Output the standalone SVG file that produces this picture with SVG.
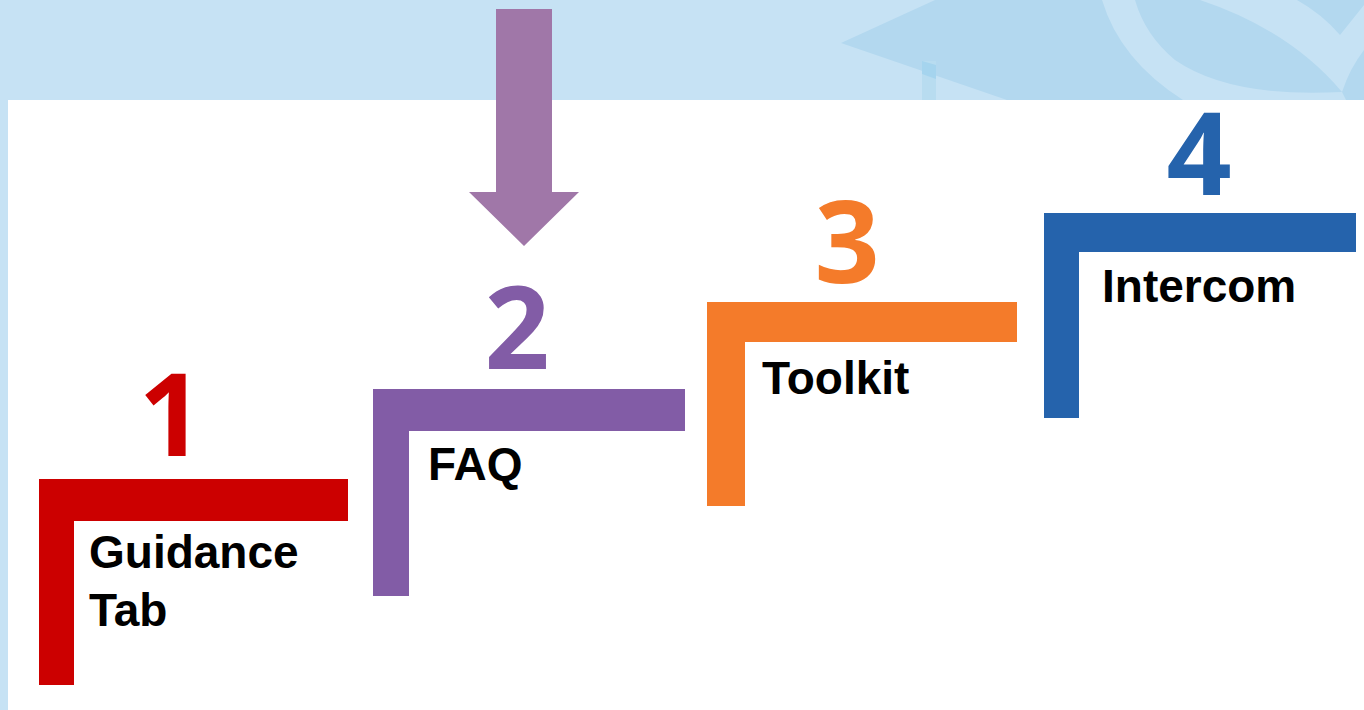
<svg xmlns="http://www.w3.org/2000/svg" width="1364" height="710" viewBox="0 0 1364 710">
  <style>
    .num { font-family: "Open Sans", "Liberation Sans", sans-serif; font-weight: 700; font-size: 114px; text-anchor: middle; }
    .label { font-family: "Liberation Sans", Arial, sans-serif; font-weight: 700; font-size: 46px; fill: #000000; }
    .bg { fill: #C6E2F4; }
    .bg-dark { fill: #B3D8EF; }
  </style>

  <!-- page background: light blue frame with a white panel -->
  <g id="background">
    <rect class="bg" x="0" y="0" width="1364" height="710"/>
    <!-- mortarboard and swoosh emblem in the header -->
    <polygon class="bg-dark" points="841,43 935,0 1364,0 1364,100 1007,100"/>
    <rect x="922" y="61" width="14" height="39" fill="#B8DCF0"/>
    <polygon points="922,61 936,65 936,79 922,74" fill="#A5D4EE"/>
    <path class="bg" d="M1102,0 Q1120,60 1183,100 L1346,100 L1342,92 Q1230,98 1175,60 Q1145,35 1135,0 Z"/>
    <path class="bg" d="M1200,0 L1297,0 Q1322,14 1340,35 L1364,5 L1364,50 Q1350,68 1342,92 Q1290,30 1200,0 Z"/>
    <rect x="8" y="100" width="1356" height="610" fill="#FFFFFF"/>
  </g>

  <!-- step 1 -->
  <g id="step-1">
    <path d="M39,479 H348 V521 H74 V685 H39 Z" fill="#CC0000"/>
    <text class="num" x="171" y="456" fill="#CC0000">1</text>
    <text class="label" x="89" y="568">Guidance</text>
    <text class="label" x="89" y="626">Tab</text>
  </g>

  <!-- step 2 -->
  <g id="step-2">
    <path d="M373,389 H685 V431 H409 V596 H373 Z" fill="#825CA6"/>
    <text class="num" x="517" y="369" fill="#825CA6">2</text>
    <text class="label" x="428" y="480">FAQ</text>
  </g>

  <!-- step 3 -->
  <g id="step-3">
    <path d="M707,302 H1017 V342 H745 V506 H707 Z" fill="#F47B2A"/>
    <text class="num" x="847" y="283" fill="#F47B2A">3</text>
    <text class="label" x="762" y="394">Toolkit</text>
  </g>

  <!-- step 4 -->
  <g id="step-4">
    <path d="M1044,213 H1356 V252 H1079 V418 H1044 Z" fill="#2563AC"/>
    <text class="num" x="1199" y="195" fill="#2563AC">4</text>
    <text class="label" x="1102" y="302">Intercom</text>
  </g>

  <!-- pointer onto step 2 -->
  <g id="connectors">
    <polygon points="496,9 552,9 552,192 579,192 524,246 469,192 496,192" fill="#A077A8"/>
  </g>
</svg>
